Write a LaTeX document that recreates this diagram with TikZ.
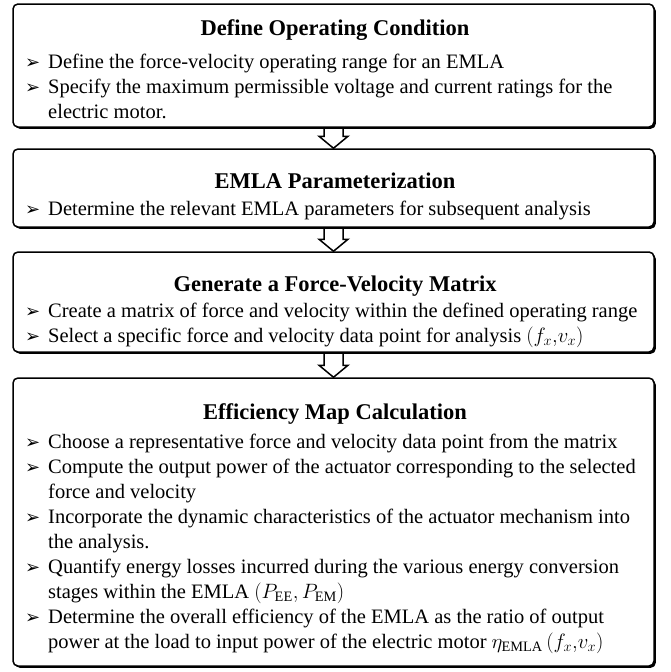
\documentclass[tikz,border=0pt]{standalone}
\usepackage{fontspec}
\setmainfont{Liberation Serif}
\newfontfamily\bulfont{DejaVu Sans}
\usetikzlibrary{shadows,calc}
\newcommand\bl{\par\noindent\hangindent=23pt\hangafter=1\makebox[23pt][l]{\bulfont\fontsize{18}{18}\selectfont ➢}}
\newcommand\blist[1]{\vtop{\hsize=628pt\raggedright\fontsize{20.5}{25}\selectfont #1\par}}
\newcommand\hollowarrow[2]{%
  \draw[harr] let \p1=(#1.south), \p2=(#2.north) in
    (\x1-9.5pt,\y1) -- (\x1-9.5pt,\y2+12pt) -- (\x1-14.5pt,\y2+12pt) -- (\x1,\y2)
    -- (\x1+14.5pt,\y2+12pt) -- (\x1+9.5pt,\y2+12pt) -- (\x1+9.5pt,\y1);}
\tikzset{
  box/.style={draw, line width=1.5pt, rounded corners=5pt, fill=white,
    drop shadow={shadow xshift=1.8pt, shadow yshift=-1.8pt, fill=black, opacity=1},
    inner sep=0pt},
  ttl/.style={font=\fontsize{22.5}{26}\selectfont\bfseries, anchor=base, inner sep=0pt},
  body/.style={anchor=base west, inner sep=0pt},
  harr/.style={draw, line width=1.5pt, line join=miter}
}
\begin{document}
\begin{tikzpicture}[x=1pt,y=-1pt]
\useasboundingbox (0,0) rectangle (670,672);
\node[box, minimum width=641pt, minimum height=123pt] (b1) at (333.5,65.5) {};
\node[box, minimum width=641pt, minimum height=78pt] (b2) at (333.5,188) {};
\node[box, minimum width=641pt, minimum height=100pt] (b3) at (333.5,302) {};
\node[box, minimum width=641pt, minimum height=288pt] (b4) at (333.5,522) {};

\node[ttl] (t1) at (335,35) {Define Operating Condition};
\node[body] (l1) at (25,68) {\blist{\bl Define the force-velocity operating range for an EMLA
\bl Specify the maximum permissible voltage and current ratings for the\newline electric motor.}};

\node[ttl] (t2) at (335,188) {EMLA Parameterization};
\node[body] (l2) at (25,215) {\blist{\bl Determine the relevant EMLA parameters for subsequent analysis}};

\node[ttl] (t3) at (335,291) {Generate a Force-Velocity Matrix};
\node[body] (l3) at (25,317) {\blist{\bl Create a matrix of force and velocity within the defined operating range
\bl Select a specific force and velocity data point for analysis $(f_x{,}v_x)$}};

\node[ttl] (t4) at (335,419) {Efficiency Map Calculation};
\node[body] (l4) at (25,448) {\blist{\bl Choose a representative force and velocity data point from the matrix
\bl Compute the output power of the actuator corresponding to the selected\newline force and velocity
\bl Incorporate the dynamic characteristics of the actuator mechanism into\newline the analysis.
\bl Quantify energy losses incurred during the various energy conversion\newline stages within the EMLA $(P_{\mathrm{EE}},P_{\mathrm{EM}})$
\bl Determine the overall efficiency of the EMLA as the ratio of output\newline power at the load to input power of the electric motor $\eta_{\mathrm{EMLA}}\,(f_x{,}v_x)$}};

\hollowarrow{b1}{b2}
\hollowarrow{b2}{b3}
\hollowarrow{b3}{b4}
\end{tikzpicture}
\end{document}
